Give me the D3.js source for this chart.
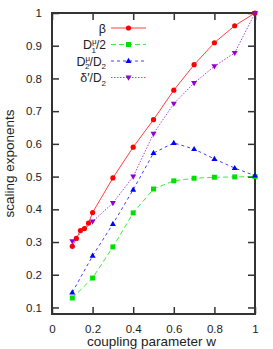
<!DOCTYPE html>
<html>
<head>
<meta charset="utf-8">
<script src="https://cdn.jsdelivr.net/npm/d3@7"></script>
<style>
  body { margin: 0; background: #fff; }
  text { font-family: "Liberation Sans", Arial, sans-serif; }
</style>
</head>
<body>
<div id="chart"></div>
<script>
// data
const betaW   = [0.1, 0.12, 0.14, 0.16, 0.18, 0.2, 0.3, 0.4, 0.5, 0.6, 0.7, 0.8, 0.9, 1.0];
const betaV   = [0.287, 0.311, 0.335, 0.341, 0.358, 0.39, 0.496, 0.59, 0.674, 0.764, 0.842, 0.909, 0.961, 1.0];
const wValues = [0.1, 0.2, 0.3, 0.4, 0.5, 0.6, 0.7, 0.8, 0.9, 1.0];
const d1V     = [0.129, 0.19, 0.285, 0.389, 0.462, 0.487, 0.495, 0.498, 0.499, 0.5];
const d2V     = [0.146, 0.258, 0.355, 0.46, 0.572, 0.603, 0.584, 0.554, 0.526, 0.503];
const deltaV  = [0.302, 0.363, 0.419, 0.5, 0.631, 0.723, 0.786, 0.837, 0.878, 1.0];
const xTicks  = [0, 0.2, 0.4, 0.6, 0.8, 1];
const yTicks  = [0.1, 0.2, 0.3, 0.4, 0.5, 0.6, 0.7, 0.8, 0.9, 1];

var W = 273, H = 349;
var margin = {top: 13, right: 18, bottom: 35, left: 52};
var width = W - margin.left - margin.right,
    height = H - margin.top - margin.bottom;

var svg = d3.select("#chart").append("svg")
  .attr("width", W).attr("height", H);
var g = svg.append("g")
  .attr("transform", "translate(" + margin.left + "," + margin.top + ")");

var x = d3.scaleLinear().domain([0, 1]).range([0, width]);
var y = d3.scaleLinear().domain([0.08, 1]).range([height, 0]);

var axisColor = "#333";

// ticks on all four sides, pointing inward
g.append("g").attr("transform", `translate(0,${height})`)
  .call(d3.axisBottom(x).tickValues(xTicks).tickSize(-7).tickPadding(11).tickFormat(d3.format("")));
g.append("g")
  .call(d3.axisTop(x).tickValues(xTicks).tickSize(-7).tickFormat(""));
g.append("g")
  .call(d3.axisLeft(y).tickValues(yTicks).tickSize(-7).tickPadding(10).tickFormat(d3.format("")));
g.append("g").attr("transform", `translate(${width},0)`)
  .call(d3.axisRight(y).tickValues(yTicks).tickSize(-7).tickFormat(""));

g.selectAll(".domain").remove();
g.selectAll(".tick line").attr("stroke", axisColor).attr("stroke-width", 1.5);
g.selectAll(".tick text").attr("font-size", 11.5).attr("fill", "#222")
  .style("font-family", "'Liberation Sans', Arial, sans-serif");

// frame
g.append("rect")
  .attr("x", 0).attr("y", 0).attr("width", width).attr("height", height)
  .attr("fill", "none").attr("stroke", axisColor).attr("stroke-width", 2);

var series = [
  {xs: betaW, ys: betaV, color: "#ff0000", dash: null, w: 1, shape: "circle"},
  {xs: wValues, ys: d1V, color: "#00e000", dash: "5,3", w: 1, shape: "square"},
  {xs: wValues, ys: d2V, color: "#0000ff", dash: "3,3", w: 1, shape: "triangle"},
  {xs: wValues, ys: deltaV, color: "#9400d3", dash: "1.5,1.5", w: 1, shape: "down"}
];

var line = d3.line().x(d => x(d[0])).y(d => y(d[1]));

function marker(sel, shape, color) {
  if (shape === "circle") {
    sel.append("circle").attr("r", 2.6).attr("fill", color);
  } else if (shape === "square") {
    sel.append("rect").attr("x", -2.5).attr("y", -2.5).attr("width", 5).attr("height", 5).attr("fill", color);
  } else if (shape === "triangle") {
    sel.append("path").attr("d", "M0,-3.2L3,2L-3,2Z").attr("fill", color);
  } else {
    sel.append("path").attr("d", "M0,3.2L3,-2L-3,-2Z").attr("fill", color);
  }
}

series.forEach(s => {
  var pts = s.xs.map((v, i) => [v, s.ys[i]]);
  g.append("path")
    .attr("d", line(pts))
    .attr("fill", "none")
    .attr("stroke", s.color)
    .attr("stroke-opacity", 0.75)
    .attr("stroke-width", s.w)
    .attr("stroke-dasharray", s.dash);
  pts.forEach(p => {
    var m = g.append("g").attr("transform", `translate(${x(p[0])},${y(p[1])})`);
    marker(m, s.shape, s.color);
  });
});

// legend
var legendRows = [
  {parts: [["β", 0, 0]]},
  {parts: [["D", 0, 0], ["μ", -5, 8], ["1", 0, 8, -5], ["/2", 0, 12]]},
  {parts: [["D", 0, 0], ["μ", -5, 8], ["2", 0, 8, -5], ["/D", 0, 12], ["2", 0, 8]]},
  {parts: [["δ′", 0, 0], ["/D", 0, 12], ["2", 0, 8]]}
];
var rowY = [28, 44.5, 61, 77.5];

legendRows.forEach((r, i) => {
  var ly = rowY[i];
  var t = svg.append("text")
    .attr("x", 106).attr("y", ly + 4.5)
    .attr("text-anchor", "end")
    .attr("font-size", 12.5)
    .attr("fill", "#222");
  var base = 0;
  r.parts.forEach(p => {
    var txt = p[0], fs = p[2] || 12.5;
    var off = 0;
    if (fs < 12) {
      // superscript or subscript
      off = (p[1] < 0) ? -5 : 3.5;
      if (p.length > 3 && p[3] !== undefined) off = 3.5;
    }
    if (i > 0 && (txt === "1" || txt === "2") && fs < 12 && p.length < 4) off = 3.5;
    var dy = off - base;
    base = off;
    var ts = t.append("tspan").attr("font-size", fs).attr("dy", dy).text(txt);
    if (p.length > 3) ts.attr("dx", p[3]);
  });
  var s = series[i];
  svg.append("line")
    .attr("x1", 111).attr("x2", 146).attr("y1", ly).attr("y2", ly)
    .attr("stroke", s.color).attr("stroke-opacity", 0.75)
    .attr("stroke-width", s.w)
    .attr("stroke-dasharray", s.dash);
  marker(svg.append("g").attr("transform", `translate(128.5,${ly})`), s.shape, s.color);
});

// axis titles
svg.append("text")
  .attr("x", margin.left + width / 2 - 2).attr("y", 346)
  .attr("text-anchor", "middle")
  .attr("font-size", 13.5).attr("fill", "#222")
  .text("coupling parameter w");
svg.append("text")
  .attr("transform", `translate(14,${margin.top + height / 2}) rotate(-90)`)
  .attr("text-anchor", "middle")
  .attr("font-size", 13.5).attr("fill", "#222")
  .text("scaling exponents");
</script>
</body>
</html>
